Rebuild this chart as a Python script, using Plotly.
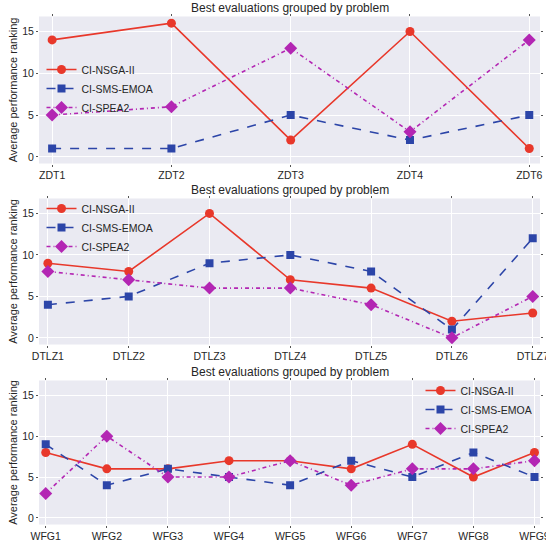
import plotly.graph_objects as go

zdt_problems = ["ZDT1", "ZDT2", "ZDT3", "ZDT4", "ZDT6"]
zdt_nsga2 = [14, 16, 2, 15, 1]
zdt_sms = [1, 1, 5, 2, 5]
zdt_spea2 = [5, 6, 13, 3, 14]

dtlz_problems = ["DTLZ1", "DTLZ2", "DTLZ3", "DTLZ4", "DTLZ5", "DTLZ6", "DTLZ7"]
dtlz_nsga2 = [9, 8, 15, 7, 6, 2, 3]
dtlz_sms = [4, 5, 9, 10, 8, 1, 12]
dtlz_spea2 = [8, 7, 6, 6, 4, 0, 5]

wfg_problems = ["WFG1", "WFG2", "WFG3", "WFG4", "WFG5", "WFG6", "WFG7", "WFG8", "WFG9"]
wfg_nsga2 = [8, 6, 6, 7, 7, 6, 9, 5, 8]
wfg_sms = [9, 4, 6, 5, 4, 7, 5, 8, 5]
wfg_spea2 = [3, 10, 5, 5, 7, 4, 6, 6, 7]

series_names = ["CI-NSGA-II", "CI-SMS-EMOA", "CI-SPEA2"]
y_ticks = [0, 5, 10, 15]
title_text = "Best evaluations grouped by problem"

W, H = 546, 545
RED = "#E8382B"
BLUE = "#2C45A8"
MAG = "#B326B3"
styles = [
    dict(color=RED, dash="solid", symbol="circle", size=9),
    dict(color=BLUE, dash="dash", symbol="square", size=8),
    dict(color=MAG, dash="4px,3px,1px,3px", symbol="diamond", size=10),
]

panels = [
    (zdt_problems, [zdt_nsga2, zdt_sms, zdt_spea2], (16.5, 163.5), "legend"),
    (dtlz_problems, [dtlz_nsga2, dtlz_sms, dtlz_spea2], (198.5, 344.5), "legend2"),
    (wfg_problems, [wfg_nsga2, wfg_sms, wfg_spea2], (380.5, 524.5), "legend3"),
]

fig = go.Figure()
layout = dict(
    width=W, height=H,
    margin=dict(l=39, r=6, t=0, b=0, autoexpand=False),
    paper_bgcolor="white",
    plot_bgcolor="#EAEAF2",
    font=dict(family="Liberation Sans, Arial, sans-serif", size=11, color="#262626"),
    showlegend=True,
)

annotations = []
for i, (cats, vals, (top, bot), leg) in enumerate(panels):
    idx = "" if i == 0 else str(i + 1)
    xname = "x" + idx
    yname = "y" + idx
    for name, v, st in zip(series_names, vals, styles):
        fig.add_trace(go.Scatter(
            x=list(range(len(cats))), y=v, name=name, mode="lines+markers",
            xaxis=xname, yaxis=yname, legend=leg,
            line=dict(color=st["color"], dash=st["dash"], width=1.6),
            marker=dict(color=st["color"], symbol=st["symbol"], size=st["size"]),
        ))
    n = len(cats)
    layout["xaxis" + idx] = dict(
        domain=[0, 1], anchor=yname, automargin=False,
        range=[-0.11, n - 1 + 0.09],
        tickmode="array", tickvals=list(range(n)), ticktext=cats,
        showgrid=True, gridcolor="white", gridwidth=1,
        zeroline=False, showline=False,
        ticks="outside", ticklen=2, tickcolor="#555555", mirror="ticks",
        tickfont=dict(size=10.5), ticklabeloverflow="allow",
    )
    layout["yaxis" + idx] = dict(
        domain=[1 - bot / H, 1 - top / H], anchor=xname, automargin=False,
        range=[-0.8, 16.8],
        tickmode="array", tickvals=y_ticks,
        showgrid=True, gridcolor="white", gridwidth=1,
        zeroline=False, showline=False,
        ticks="outside", ticklen=2, tickcolor="#555555", mirror="ticks",
        tickfont=dict(size=10.5),
        title=dict(text="Average performance ranking", font=dict(size=11), standoff=2),
    )
    annotations.append(dict(
        text=title_text, xref="paper", yref="paper",
        x=0.5, y=1 - (top - 8.5) / H, xanchor="center", yanchor="middle",
        showarrow=False, font=dict(size=12, color="#262626"),
    ))

legend_common = dict(
    bgcolor="rgba(0,0,0,0)", borderwidth=0,
    font=dict(size=10.5, color="#262626"),
    tracegroupgap=0, itemwidth=30,
)
layout["legend"] = dict(legend_common, x=0.005, y=1 - 55 / H, xanchor="left", yanchor="top")
layout["legend2"] = dict(legend_common, x=0.005, y=1 - 194 / H, xanchor="left", yanchor="top")
layout["legend3"] = dict(legend_common, x=0.995, y=1 - 376 / H, xanchor="right", yanchor="top")
layout["annotations"] = annotations

fig.update_layout(**layout)
fig.write_html("out.html", config={"displayModeBar": False},
               post_script="document.body.style.margin='0';")
